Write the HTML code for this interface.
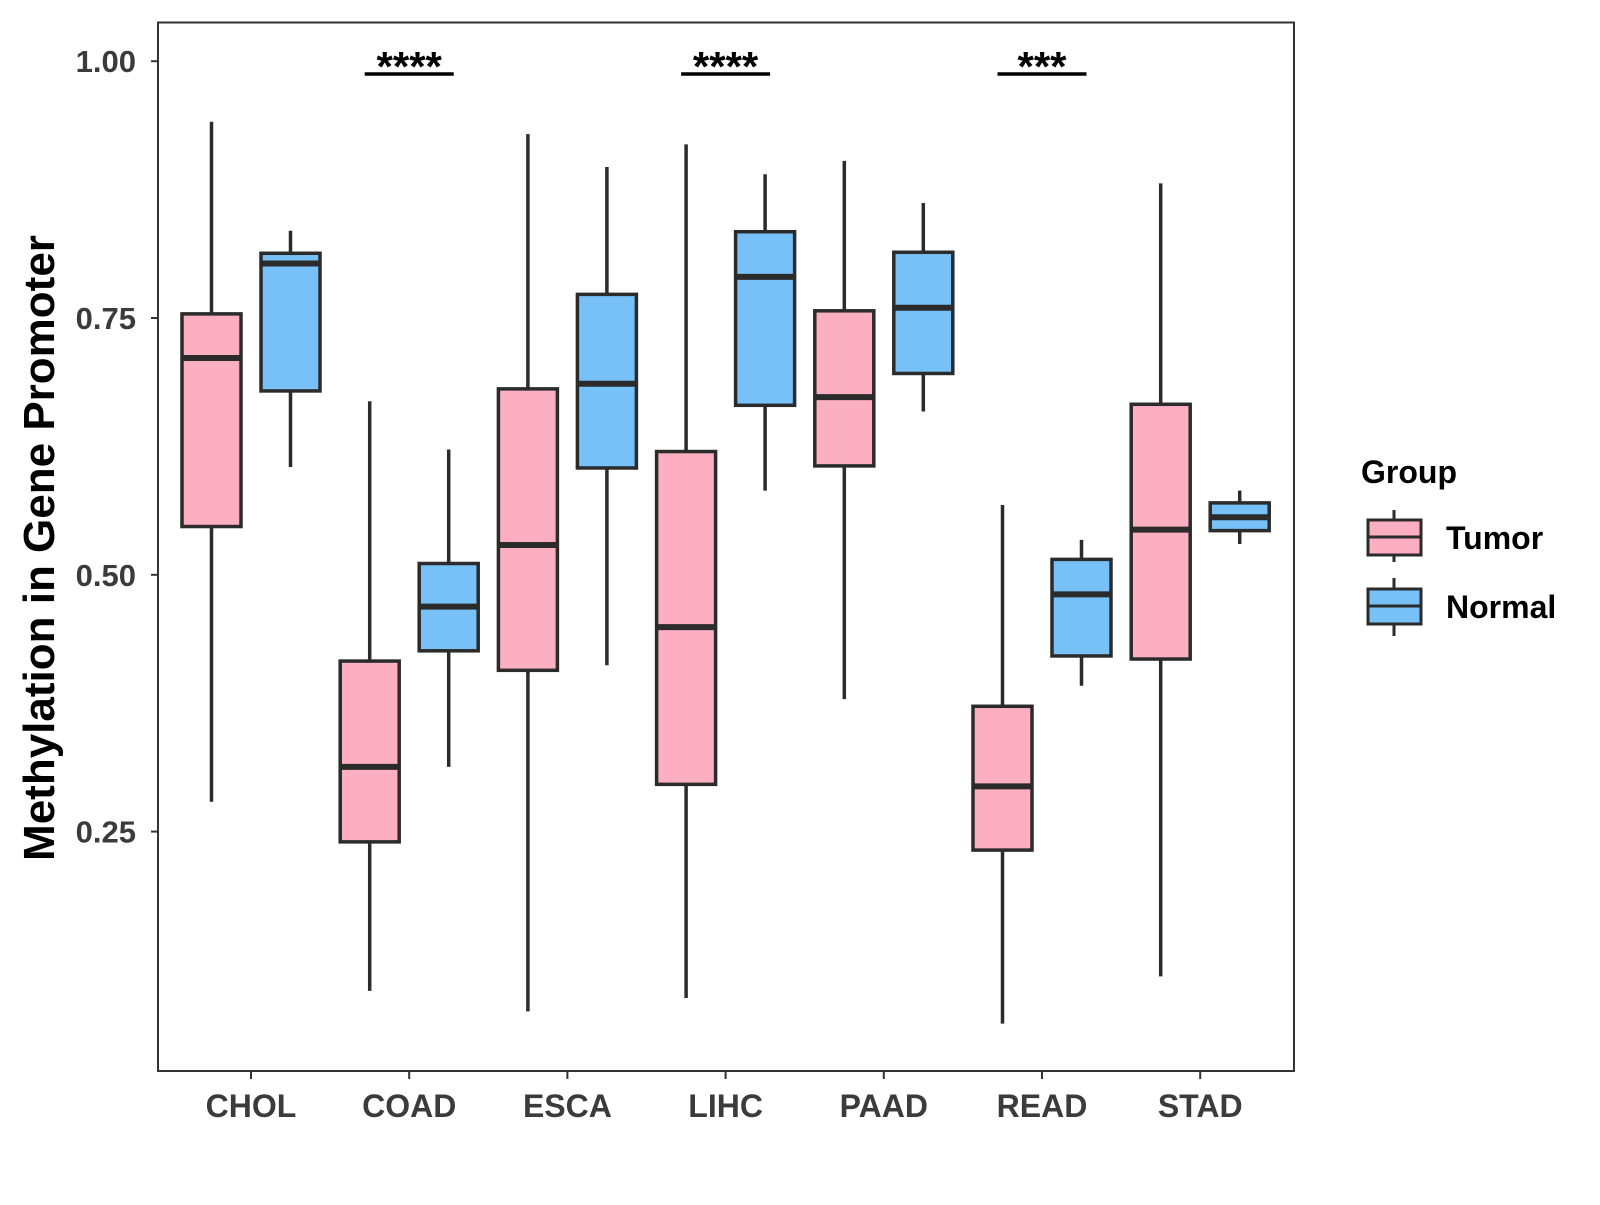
<!DOCTYPE html>
<html><head><meta charset="utf-8"><style>
body{margin:0;background:#fff;width:1600px;height:1200px;overflow:hidden}
svg text{font-family:"Liberation Sans",Arial,sans-serif;font-weight:bold}
</style></head><body>
<svg id="chart" width="1600" height="1200" xmlns="http://www.w3.org/2000/svg"></svg>
<script>
const categories=["CHOL","COAD","ESCA","LIHC","PAAD","READ","STAD"];
const groups=["Tumor","Normal"];
const colors=["#FCAFC1","#77C1F8"];
// [whiskerLow, q1, median, q3, whiskerHigh]
const tumorStats=[[0.279,0.547,0.711,0.754,0.941],[0.095,0.240,0.313,0.416,0.669],[0.075,0.407,0.529,0.681,0.929],[0.088,0.296,0.449,0.620,0.919],[0.379,0.606,0.673,0.757,0.903],[0.063,0.232,0.294,0.372,0.568],[0.109,0.418,0.544,0.666,0.881]];
const normalStats=[[0.605,0.679,0.803,0.813,0.835],[0.313,0.426,0.469,0.511,0.622],[0.412,0.604,0.686,0.773,0.897],[0.582,0.665,0.790,0.834,0.890],[0.659,0.696,0.760,0.814,0.862],[0.392,0.421,0.481,0.515,0.534],[0.530,0.543,0.556,0.570,0.582]];
const yTicks=[0.25,0.50,0.75,1.00];
const yTickLabels=["0.25","0.50","0.75","1.00"];
const sigCats=["COAD","LIHC","READ"];
const sigLabels=["****","****","***"];

const NS="http://www.w3.org/2000/svg";
const svg=document.getElementById('chart');
const L=158,T=22.5,R=1294,B=1071;
const y=v=>61.2+(1-v)*1027.2;
const x=i=>251+i*158.2;
const OFF=39.5,BW=59;
function mk(tag,attrs,parent){const e=document.createElementNS(NS,tag);for(const k in attrs)e.setAttribute(k,attrs[k]);(parent||svg).appendChild(e);return e;}

const panel=mk('rect',{x:L,y:T,width:R-L,height:B-T,fill:'#fff',stroke:'#333','stroke-width':2});



yTicks.forEach((v,i)=>{
  const t=mk('line',{x1:L-7,x2:L,y1:y(v),y2:y(v),stroke:'#333','stroke-width':2});
  
  
  const lb=mk('text',{x:L-22,y:y(v)+11,'text-anchor':'end','font-size':31,fill:'#3b3b3b'});
  lb.textContent=yTickLabels[i];
  
  
});
categories.forEach((c,i)=>{
  const t=mk('line',{x1:x(i),x2:x(i),y1:B,y2:B+8,stroke:'#333','stroke-width':2});
  
  
  const lb=mk('text',{x:x(i),y:1117,'text-anchor':'middle','font-size':32,fill:'#3b3b3b'});
  lb.textContent=c;
  
  
});

function box(cx,s,col,name){
  const g=mk('g',{});
  
  
  mk('line',{x1:cx,x2:cx,y1:y(s[0]),y2:y(s[4]),stroke:'#2b2b2b','stroke-width':3.5},g);
  mk('rect',{x:cx-BW/2,y:y(s[3]),width:BW,height:y(s[1])-y(s[3]),fill:col,stroke:'#2b2b2b','stroke-width':3.5},g);
  mk('line',{x1:cx-BW/2,x2:cx+BW/2,y1:y(s[2]),y2:y(s[2]),stroke:'#2b2b2b','stroke-width':6},g);
}
categories.forEach((c,i)=>{
  box(x(i)-OFF,tumorStats[i],colors[0],'box-tumor-'+c.toLowerCase());
  box(x(i)+OFF,normalStats[i],colors[1],'box-normal-'+c.toLowerCase());
});
sigCats.forEach((c,k)=>{
  const i=categories.indexOf(c);
  const l=mk('line',{x1:x(i)-44.5,x2:x(i)+44.5,y1:74,y2:74,stroke:'#000','stroke-width':3.5});
  
  
  const t=mk('text',{x:x(i),y:81,'text-anchor':'middle','font-size':42,fill:'#000'});
  t.textContent=sigLabels[k];
  
  
});
</script>
<svg style="position:absolute;left:0;top:0" width="1600" height="1200" xmlns="http://www.w3.org/2000/svg">
<text x="0" y="0" transform="translate(54,548) rotate(-90)" text-anchor="middle" font-size="44" fill="#000">Methylation in Gene Promoter</text>
<text x="1361" y="483" font-size="32" fill="#000">Group</text>
<g>
<line x1="1394" x2="1394" y1="510" y2="562" stroke="#2b2b2b" stroke-width="3"/>
<rect x="1368" y="520" width="53" height="35" fill="#FCAFC1" stroke="#2b2b2b" stroke-width="3"/>
<line x1="1368" x2="1421" y1="537" y2="537" stroke="#2b2b2b" stroke-width="3"/>
<text x="1446" y="549" font-size="32" fill="#000">Tumor</text>
</g>
<g>
<line x1="1394" x2="1394" y1="578" y2="636" stroke="#2b2b2b" stroke-width="3"/>
<rect x="1368" y="589" width="53" height="35" fill="#77C1F8" stroke="#2b2b2b" stroke-width="3"/>
<line x1="1368" x2="1421" y1="606" y2="606" stroke="#2b2b2b" stroke-width="3"/>
<text x="1446" y="618" font-size="32" fill="#000">Normal</text>
</g>
</svg>
</body></html>
